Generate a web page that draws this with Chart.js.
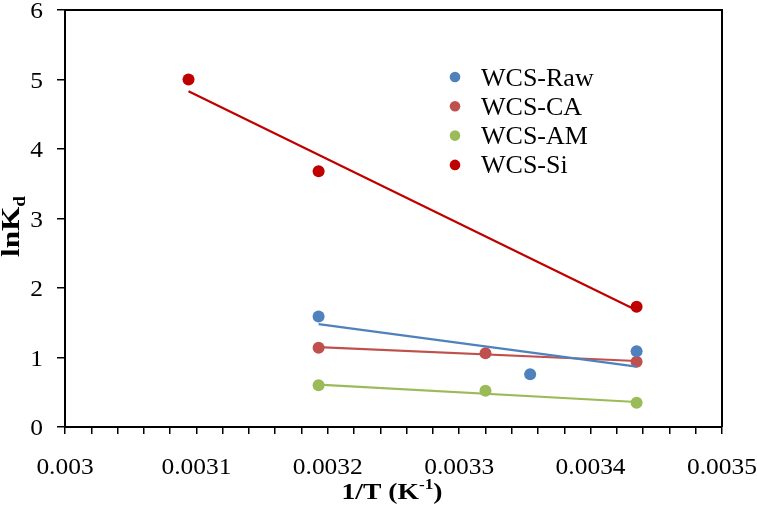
<!DOCTYPE html>
<html><head><meta charset="utf-8">
<script src="https://cdn.jsdelivr.net/npm/chart.js@4.4.1/dist/chart.umd.min.js"></script>
<style>html,body{margin:0;padding:0;background:#fff;}canvas{display:block;}
.pre{font-family:"Liberation Serif";position:absolute;left:-1000px;top:0;}</style>
</head><body>
<span class="pre">0123 WCS <b>lnK bold</b></span>
<canvas id="c" width="757" height="509"></canvas>
<script>
// ---- data ----
const seriesNames  = ['WCS-Raw', 'WCS-CA', 'WCS-AM', 'WCS-Si'];
const seriesColors = ['#4F81BD', '#C0504D', '#9BBB59', '#C00000'];

const rawX = [0.003193, 0.003354, 0.003435];
const rawY = [1.59, 0.76, 1.09];
const caX  = [0.003193, 0.003320, 0.003435];
const caY  = [1.14, 1.06, 0.94];
const amX  = [0.003193, 0.003320, 0.003435];
const amY  = [0.60, 0.52, 0.35];
const siX  = [0.003094, 0.003193, 0.003435];
const siY  = [5.00, 3.68, 1.73];

// linear trendline end points
const rawTrendX = [0.003193, 0.003435], rawTrendY = [1.48, 0.87];
const caTrendX  = [0.003193, 0.003435], caTrendY  = [1.15, 0.95];
const amTrendX  = [0.003193, 0.003435], amTrendY  = [0.61, 0.36];
const siTrendX  = [0.003094, 0.003435], siTrendY  = [4.83, 1.68];

const xMajorTicks = [0.003, 0.0031, 0.0032, 0.0033, 0.0034, 0.0035];
const xMinorStep = 0.00002;
const yTicks = [0, 1, 2, 3, 4, 5, 6];
const xTitle = ['1/T (K', '-1', ')'];
const yTitle = ['lnK', 'd'];

// ---- helpers ----
const pts = (xs, ys) => xs.map((x, i) => ({x, y: ys[i]}));
const FONT = '"Liberation Serif", "Times New Roman", Times, serif';

function sText(ctx, text, x, y, align, sx) {
  ctx.save();
  ctx.translate(x, y);
  ctx.scale(sx, 1);
  ctx.textAlign = align;
  ctx.fillText(text, 0, 0);
  ctx.restore();
}

const pointSets = [[rawX, rawY], [caX, caY], [amX, amY], [siX, siY]];
const trendSets = [[rawTrendX, rawTrendY], [caTrendX, caTrendY], [amTrendX, amTrendY], [siTrendX, siTrendY]];

const datasets = [];
trendSets.forEach((s, i) => datasets.push({
  label: seriesNames[i] + ' trend', data: pts(s[0], s[1]), showLine: true,
  borderColor: seriesColors[i], borderWidth: 2.2, pointRadius: 0, fill: false
}));
pointSets.forEach((s, i) => datasets.push({
  label: seriesNames[i], data: pts(s[0], s[1]), showLine: false,
  backgroundColor: seriesColors[i], borderColor: seriesColors[i], borderWidth: 0,
  pointRadius: 6, pointHoverRadius: 6
}));

const textPlugin = {
  id: 'texts',
  afterDraw(chart) {
    const ctx = chart.ctx, ca = chart.chartArea;
    const xs = chart.scales.x, ys = chart.scales.y;
    ctx.save();
    // frame top/right
    ctx.strokeStyle = '#000'; ctx.lineWidth = 2;
    ctx.beginPath();
    ctx.moveTo(ca.left, ca.top); ctx.lineTo(ca.right, ca.top); ctx.lineTo(ca.right, ca.bottom);
    ctx.stroke();

    ctx.fillStyle = '#000';
    ctx.textBaseline = 'alphabetic';
    const SX = 1.06;
    // y tick labels
    ctx.font = '24px ' + FONT;
    yTicks.forEach(v => {
      sText(ctx, String(v), 43, ys.getPixelForValue(v) + 8, 'right', SX);
    });
    // x tick labels
    xMajorTicks.forEach(v => {
      sText(ctx, String(v), xs.getPixelForValue(v), 474, 'center', SX);
    });

    // x title
    const big = 'bold 24px ' + FONT, small = 'bold 15px ' + FONT;
    const tsx = 1.15;
    ctx.font = big; const w1 = ctx.measureText(xTitle[0]).width * tsx, w3 = ctx.measureText(xTitle[2]).width * tsx;
    ctx.font = small; const w2 = ctx.measureText(xTitle[1]).width * tsx;
    let x0 = 392 - (w1 + w2 + w3) / 2;
    ctx.font = big; sText(ctx, xTitle[0], x0, 499, 'left', tsx);
    ctx.font = small; sText(ctx, xTitle[1], x0 + w1, 489, 'left', tsx);
    ctx.font = big; sText(ctx, xTitle[2], x0 + w1 + w2, 499, 'left', tsx);

    // y title (rotated)
    ctx.save();
    ctx.translate(19, 257);
    ctx.rotate(-Math.PI / 2);
    ctx.scale(1.2, 1);
    ctx.textAlign = 'left';
    ctx.font = 'bold 26px ' + FONT;
    ctx.fillText(yTitle[0], 0, 0);
    const wl = ctx.measureText(yTitle[0]).width;
    ctx.font = 'bold 16px ' + FONT;
    ctx.fillText(yTitle[1], wl, 6);
    ctx.restore();

    // legend
    ctx.font = '25px ' + FONT;
    seriesNames.forEach((n, i) => {
      const y = 77 + i * 29.3;
      ctx.fillStyle = seriesColors[i];
      ctx.beginPath(); ctx.arc(455, y, 5.3, 0, Math.PI * 2); ctx.fill();
      ctx.fillStyle = '#000';
      sText(ctx, n, 481, y + 8.5, 'left', 1.04);
    });
    ctx.restore();
  }
};

function build() {
  new Chart(document.getElementById('c'), {
    type: 'scatter',
    data: { datasets },
    options: {
      responsive: false, animation: false, devicePixelRatio: 1,
      layout: { padding: { left: 0, right: 35, top: 10, bottom: 0 } },
      plugins: { legend: { display: false }, tooltip: { enabled: false } },
      scales: {
        x: {
          type: 'linear', min: 0.003, max: 0.0035,
          afterBuildTicks(s) {
            const t = [];
            const n = Math.round((0.0035 - 0.003) / xMinorStep);
            for (let i = 0; i <= n; i++) t.push({ value: Number((0.003 + i * xMinorStep).toFixed(6)) });
            s.ticks = t;
          },
          ticks: { display: false, autoSkip: false, maxRotation: 0 },
          grid: { drawOnChartArea: false, drawTicks: true, tickLength: 7, color: '#000', lineWidth: 1.5 },
          border: { display: true, color: '#000', width: 2 },
          afterFit(s) { s.height = 82; s.paddingLeft = 0; s.paddingRight = 0; }
        },
        y: {
          min: 0, max: 6,
          ticks: { display: false, stepSize: 1 },
          grid: { drawOnChartArea: false, drawTicks: true, tickLength: 8, color: '#000', lineWidth: 1.5 },
          border: { display: true, color: '#000', width: 2 },
          afterFit(s) { s.width = 65; s.paddingTop = 0; s.paddingBottom = 0; }
        }
      }
    },
    plugins: [textPlugin]
  });
}
if (document.fonts && document.fonts.load) {
  Promise.all([
    document.fonts.load('24px "Liberation Serif"'),
    document.fonts.load('bold 24px "Liberation Serif"')
  ]).then(build, build);
} else build();
</script>
</body></html>
